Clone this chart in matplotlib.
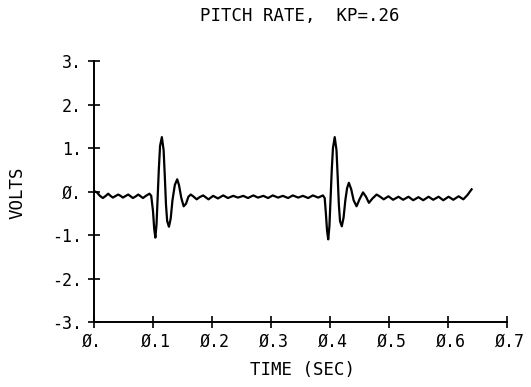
import matplotlib
matplotlib.use("Agg")
import matplotlib.pyplot as plt
import matplotlib.transforms as mtransforms

# ---- data ----
time_s = [
    0.000, 0.005, 0.010, 0.015, 0.020, 0.024, 0.028, 0.032, 0.037, 0.041,
    0.045, 0.049, 0.054, 0.058, 0.062, 0.066, 0.071, 0.075, 0.079, 0.083,
    0.088, 0.094, 0.097, 0.100, 0.102, 0.104, 0.106, 0.108, 0.110, 0.112,
    0.115, 0.118, 0.120, 0.122, 0.124, 0.127, 0.130, 0.133, 0.137, 0.141,
    0.144, 0.148, 0.152, 0.156, 0.160, 0.164, 0.169, 0.174, 0.179, 0.185,
    0.190, 0.194, 0.198,
    0.202, 0.210, 0.219, 0.227, 0.236, 0.244, 0.253, 0.261, 0.270, 0.278,
    0.287, 0.295, 0.303, 0.312, 0.320, 0.329, 0.337, 0.346, 0.354, 0.363,
    0.371, 0.380, 0.388,
    0.391, 0.393, 0.395, 0.397, 0.399, 0.401, 0.403, 0.405, 0.408, 0.411,
    0.413, 0.415, 0.417, 0.420, 0.423, 0.426, 0.429, 0.432, 0.436, 0.440,
    0.445, 0.450, 0.456, 0.461, 0.466, 0.472, 0.479, 0.485, 0.491, 0.499,
    0.507, 0.516, 0.524, 0.533, 0.541, 0.550, 0.558, 0.567, 0.575, 0.584,
    0.592, 0.601, 0.609, 0.618, 0.626, 0.633, 0.640,
]
volts = [
    0.01, -0.02, -0.10, -0.15, -0.10, -0.05, -0.10, -0.14, -0.10, -0.07,
    -0.10, -0.14, -0.10, -0.07, -0.11, -0.15, -0.11, -0.07, -0.11, -0.15,
    -0.10, -0.05, -0.10, -0.45, -0.85, -1.06, -0.75, -0.10, 0.55, 1.05,
    1.25, 0.95, 0.35, -0.30, -0.68, -0.81, -0.62, -0.20, 0.15, 0.28,
    0.15, -0.15, -0.34, -0.28, -0.12, -0.07, -0.12, -0.18, -0.13, -0.09,
    -0.14, -0.18, -0.14,
    -0.10, -0.16, -0.09, -0.15, -0.10, -0.14, -0.10, -0.15, -0.09, -0.14,
    -0.10, -0.15, -0.09, -0.14, -0.10, -0.15, -0.09, -0.14, -0.10, -0.15,
    -0.09, -0.14, -0.09,
    -0.15, -0.50, -0.90, -1.10, -0.80, -0.15, 0.50, 1.00, 1.25, 0.95,
    0.35, -0.30, -0.68, -0.80, -0.60, -0.20, 0.08, 0.20, 0.05, -0.20,
    -0.34, -0.18, -0.02, -0.12, -0.26, -0.16, -0.07, -0.12, -0.18, -0.11,
    -0.19, -0.12, -0.19, -0.12, -0.20, -0.13, -0.20, -0.12, -0.19, -0.12,
    -0.20, -0.12, -0.19, -0.11, -0.18, -0.08, 0.05,
]
x_ticks = [0.0, 0.1, 0.2, 0.3, 0.4, 0.5, 0.6, 0.7]
x_tick_labels = ["Ø.", "Ø.1", "Ø.2", "Ø.3", "Ø.4", "Ø.5", "Ø.6", "Ø.7"]
y_ticks = [-3, -2, -1, 0, 1, 2, 3]
y_tick_labels = ["-3.", "-2.", "-1.", "Ø.", "1.", "2.", "3."]
title_text = "PITCH RATE,  KP=.26"
x_label = "TIME (SEC)"
y_label = "VOLTS"

FONT = "DejaVu Sans Mono"
FS_TICK = 12
FS_TEXT = 12.5

W, H = 531, 387
fig = plt.figure(figsize=(W / 100, H / 100), dpi=100)
left, right, bottom, top = 94, 507, 322, 61
ax = fig.add_axes([left / W, 1 - bottom / H, (right - left) / W, (bottom - top) / H])

ax.plot(time_s, volts, color="black", linewidth=1.6, solid_joinstyle="round")

ax.set_xlim(0, 0.7)
ax.set_ylim(-3, 3)
for s in ["top", "right"]:
    ax.spines[s].set_visible(False)
for s in ["left", "bottom"]:
    ax.spines[s].set_linewidth(1.4)
    ax.spines[s].set_color("black")

ax.set_xticks(x_ticks)
ax.set_xticklabels(x_tick_labels, fontfamily=FONT, fontsize=FS_TICK, ha="left")
ax.set_yticks(y_ticks)
ax.set_yticklabels(y_tick_labels, fontfamily=FONT, fontsize=FS_TICK)
ax.tick_params(axis="x", direction="inout", length=8, width=1.2, pad=4)
ax.tick_params(axis="y", direction="inout", length=9, width=1.2, pad=4)

offset = mtransforms.ScaledTranslation(-12 / 100, 0, fig.dpi_scale_trans)
for lab in ax.get_xticklabels():
    lab.set_transform(lab.get_transform() + offset)

fig.text(300 / W, 1 - 16 / H, title_text, ha="center", va="center",
         fontfamily=FONT, fontsize=FS_TEXT)
fig.text(303 / W, 1 - 370 / H, x_label, ha="center", va="center",
         fontfamily=FONT, fontsize=FS_TEXT)
fig.text(18 / W, 1 - 193 / H, y_label, ha="center", va="center",
         rotation=90, fontfamily=FONT, fontsize=FS_TEXT)

fig.savefig("out.png", dpi=100, facecolor="white")
